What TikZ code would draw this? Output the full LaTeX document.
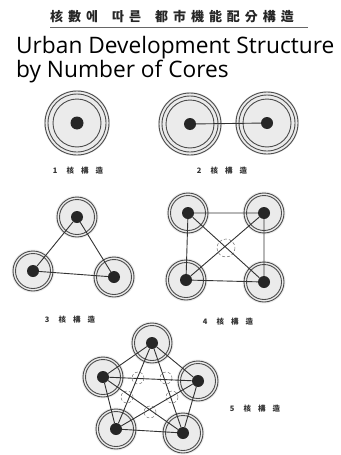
\documentclass[tikz,border=0pt]{standalone}
\usepackage{fontspec}
\setmainfont{Open Sans}
\newfontfamily\cjk{Noto Sans CJK KR}
\newfontfamily\cjkwide[LetterSpace=38]{Noto Sans CJK KR}
\begin{document}
\begin{tikzpicture}[x=1pt,y=-1pt,
  core/.style={circle,fill=black!85,inner sep=0pt,minimum size=12pt},
  halo/.style={fill=black!8},
  ring/.style={draw=black!70,line width=0.9pt},
  link/.style={draw=black!80,line width=0.9pt},
  dring/.style={draw=black!55,densely dashed,line width=0.5pt},
  ktitle/.style={font=\cjkwide\bfseries\fontsize{13}{15}\selectfont,text=black!85,anchor=west,inner sep=0pt},
  lab/.style={font=\cjk\bfseries\fontsize{7.5}{8}\selectfont,text=black!80,inner sep=0pt}]
\useasboundingbox (0,0) rectangle (340,455);
% titles
\node[ktitle] (kt1) at (50,17) {核數에};
\node[ktitle] (kt2) at (112,17) {따른};
\node[ktitle] (kt3) at (155,17) {都市機能配分構造};
\draw[black!60,line width=0.7pt] (50,27) -- (308,27);
\node[font=\fontsize{22.7}{19.5}\selectfont,align=left,anchor=north west,inner sep=0pt] (et) at (16,36) {Urban Development Structure\\by Number of Cores};
% 1 core
\coordinate (a1) at (77,123);
\fill[halo] (a1) circle[radius=33];
\draw[ring] (a1) circle[radius=32] (a1) circle[radius=29] (a1) circle[radius=24];
\node[core,minimum size=13pt] (A1) at (a1) {};
\node[lab] (l1) at (78,171) {1\hspace{9pt}核\hspace{7pt}構\hspace{7pt}造};
% 2 cores
\coordinate (b1) at (190,124);
\coordinate (b2) at (267,123);
\fill[halo] (b1) circle[radius=32] (b2) circle[radius=32];
\draw[ring] (b1) circle[radius=31] (b1) circle[radius=28] (b1) circle[radius=24];
\draw[ring] (b2) circle[radius=31] (b2) circle[radius=28] (b2) circle[radius=24];
\node[core] (B1) at (b1) {};
\node[core] (B2) at (b2) {};
\draw[link] (B1) -- (B2);
\node[lab] (l2) at (222,171) {2\hspace{9pt}核\hspace{7pt}構\hspace{7pt}造};
% 3 cores
\coordinate (c1) at (77,217);
\coordinate (c2) at (33,271);
\coordinate (c3) at (114,277);
\foreach \p in {c1,c2,c3}{
  \fill[halo] (\p) circle[radius=21.5];
  \draw[ring] (\p) circle[radius=20] (\p) circle[radius=17.5];
}
\node[core] (C1) at (c1) {};
\node[core] (C2) at (c2) {};
\node[core] (C3) at (c3) {};
\draw[link] (C1) -- (C2) (C1) -- (C3) (C2) -- (C3);
\node[lab] (l3) at (70,320) {3\hspace{9pt}核\hspace{7pt}構\hspace{7pt}造};
% 4 cores
\coordinate (d1) at (188,213);
\coordinate (d2) at (264,213);
\coordinate (d3) at (186,280);
\coordinate (d4) at (264,282);
\foreach \p in {d1,d2,d3,d4}{
  \fill[halo] (\p) circle[radius=21.5];
  \draw[ring] (\p) circle[radius=20] (\p) circle[radius=17.5];
}
\node[core] (D1) at (d1) {};
\node[core] (D2) at (d2) {};
\node[core] (D3) at (d3) {};
\node[core] (D4) at (d4) {};
\coordinate (dm) at (226,248);
\draw[dring] (dm) circle[radius=9];
\draw[link] (D1) -- (D2) -- (D4) -- (D3) -- (D1) (D1) -- (D4) (D2) -- (D3);
\node[lab] (l4) at (228,322) {4\hspace{9pt}核\hspace{7pt}構\hspace{7pt}造};
% 5 cores
\coordinate (e1) at (152,343);
\coordinate (e2) at (103,377);
\coordinate (e3) at (198,381);
\coordinate (e4) at (116,429);
\coordinate (e5) at (183,433);
\foreach \p in {e1,e2,e3,e4,e5}{
  \fill[halo] (\p) circle[radius=21.5];
  \draw[ring] (\p) circle[radius=20] (\p) circle[radius=17.5];
}
\node[core] (E1) at (e1) {};
\node[core] (E2) at (e2) {};
\node[core] (E3) at (e3) {};
\node[core] (E4) at (e4) {};
\node[core] (E5) at (e5) {};
\foreach \q/\r in {(138,378)/6,(166,378)/6,(127,397)/6,(172,397)/6,(150,412)/6}{
  \draw[dring] \q circle[radius=\r];
}
\draw[link] (E1) -- (E2) (E1) -- (E3) (E1) -- (E4) (E1) -- (E5)
            (E2) -- (E3) (E2) -- (E4) (E2) -- (E5)
            (E3) -- (E4) (E3) -- (E5) (E4) -- (E5);
\node[lab] (l5) at (255,409) {5\hspace{9pt}核\hspace{7pt}構\hspace{7pt}造};
\end{tikzpicture}
\end{document}
